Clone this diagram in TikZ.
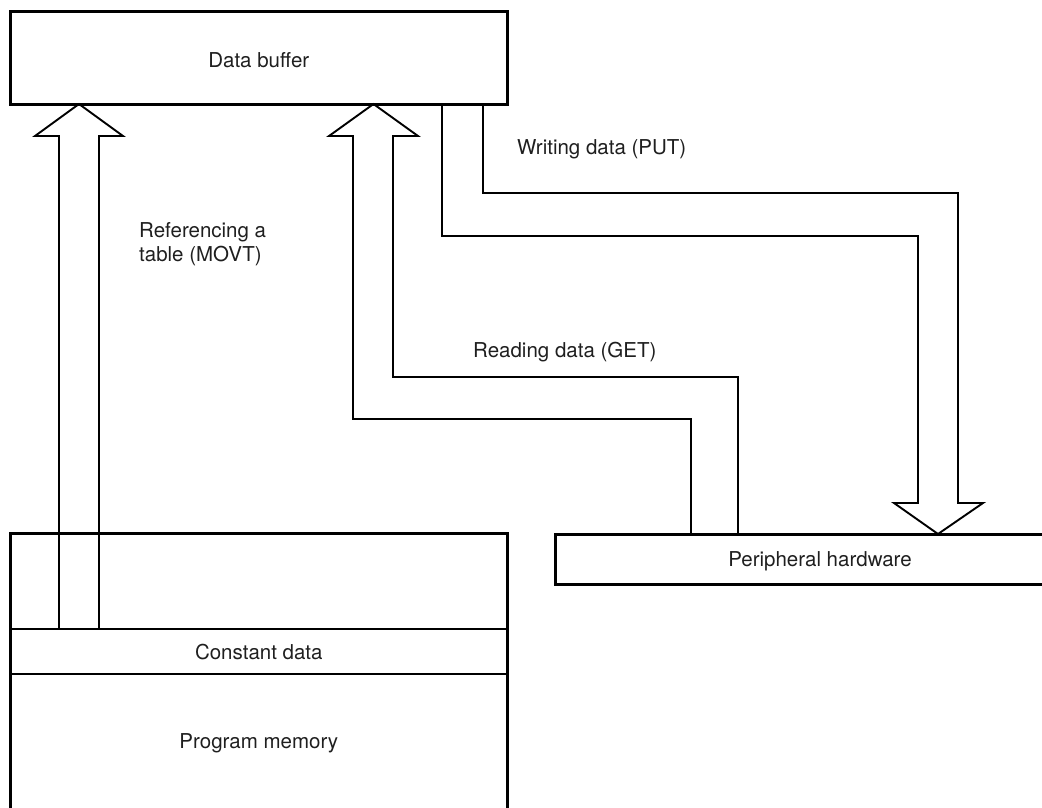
\documentclass[tikz,border=0pt]{standalone}
\usepackage{fontspec}
\setmainfont{TeX Gyre Heros}
\begin{document}
\begin{tikzpicture}[x=1pt,y=-1pt,
  boxline/.style={draw=black,line width=3pt,line join=miter},
  fatarrow/.style={draw=black,line width=1.9pt,line join=miter,fill=white},
  thinline/.style={draw=black,line width=1.7pt},
  lbl/.style={font=\fontsize{20.5pt}{24pt}\selectfont,text=black!88,inner sep=0pt},
]
\useasboundingbox (0,0) rectangle (1042,807);
\clip (0,0) rectangle (1042,807);
% MOVT arrow
\draw[fatarrow] (59,629) -- (59,136) -- (35,136) -- (79,104) -- (123,136) -- (99,136) -- (99,629);
% GET arrow
\draw[fatarrow] (691,534) -- (691,419) -- (353,419) -- (353,136) -- (329,136) -- (373.5,104)
  -- (418,136) -- (393,136) -- (393,377) -- (738,377) -- (738,534);
% PUT arrow
\draw[fatarrow] (442,104) -- (442,236) -- (918,236) -- (918,503) -- (894,503) -- (938,534)
  -- (983,503) -- (958,503) -- (958,193) -- (483,193) -- (483,104);
% boxes
\draw[boxline] (10.7,11) rectangle (507,104);
\node[lbl] (db) at (258.8,60) {Data buffer};
\draw[thinline] (10.7,629) -- (507,629);
\draw[thinline] (10.7,674) -- (507,674);
\draw[boxline] (10.7,533) rectangle (507,960);
\node[lbl] (cd) at (258.8,652) {Constant data};
\node[lbl] (pm) at (258.8,743) {Program memory};
\draw[boxline] (555,534) rectangle (1085,584);
\node[lbl] (ph) at (820,561) {Peripheral hardware};
% labels
\node[lbl,anchor=west] (put) at (517,149) {Writing data (PUT)};
\node[lbl,anchor=north west,align=left] (movt) at (139,222) {Referencing a\\table (MOVT)};
\node[lbl,anchor=west] (get) at (473,352) {Reading data (GET)};
\end{tikzpicture}
\end{document}
